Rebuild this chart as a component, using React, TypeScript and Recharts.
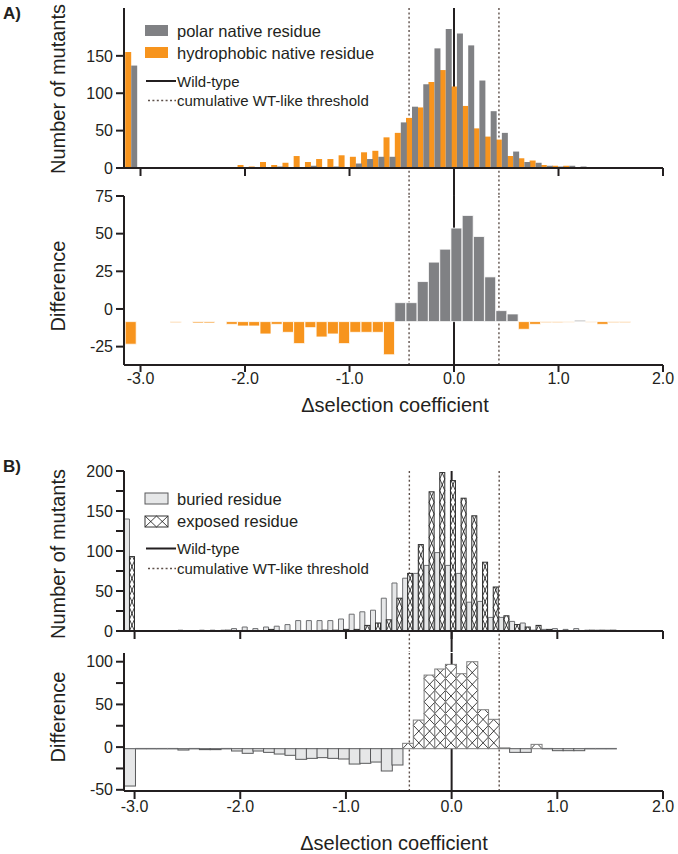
import React from "react";
import { BarChart, Bar, XAxis, YAxis, ReferenceLine, Cell } from "recharts";

const FONT = "'Liberation Sans', Arial, Helvetica, sans-serif";
const INK = "#231f20";
const GRAY = "#808184";
const ORANGE = "#f7941d";
const LIGHT = "#e6e7e8";
const EDGE = "#6d6e71";
const DOT = "#5e504a";

// panel A: bin centres, counts per bin and the plotted difference
const binsA = [
  -3.093, -2.986, -2.878, -2.771, -2.663, -2.556, -2.448, -2.341, -2.233, -2.126,
  -2.018, -1.911, -1.803, -1.696, -1.588, -1.481, -1.373, -1.266, -1.158, -1.051,
  -0.943, -0.836, -0.728, -0.621, -0.513, -0.406, -0.298, -0.191, -0.083, 0.024,
  0.132, 0.239, 0.347, 0.454, 0.562, 0.669, 0.777, 0.884, 0.992, 1.099,
  1.207, 1.314, 1.422, 1.529, 1.637,
];
const polarA = [
  137, 0, 0, 0, 0, 0, 0, 0, 1, 0,
  0, 0, 0, 2, 0, 0, 3, 0, 2, 0,
  6, 12, 15, 15, 61, 82, 112, 160, 186, 180,
  164, 117, 76, 47, 22, 8, 7, 3, 2, 3,
  2, 1, 0, 0, 0,
];
const hydrophobicA = [
  155, 0, 0, 0, 1, 0, 1, 1, 1, 1,
  4, 2, 8, 4, 7, 16, 8, 12, 12, 17,
  15, 21, 23, 41, 47, 67, 81, 115, 131, 109,
  83, 53, 42, 38, 16, 13, 10, 4, 3, 3,
  1, 1, 1, 1, 0,
];
const diffA = [
  -15, 0, 0, 0, -0.7, 0, -0.9, -0.9, 0, -1.8,
  -2.9, -2.9, -8.2, -1.8, -7.1, -14.6, -4, -10.2, -8.2, -14.6,
  -7.1, -7.1, -7.1, -22, 12.6, 12.6, 26.6, 39.5, 48.1, 62.1,
  70.5, 56.5, 29.7, 7.3, 5.1, -5.1, -1.8, -0.7, -0.7, -0.4,
  0.9, -0.4, -1.8, -0.7, -0.7,
];

// panel B
const binsB = [
  -3.045, -2.943, -2.842, -2.741, -2.64, -2.539, -2.437, -2.336, -2.235, -2.134,
  -2.032, -1.931, -1.83, -1.729, -1.628, -1.526, -1.425, -1.324, -1.223, -1.121,
  -1.02, -0.919, -0.818, -0.717, -0.615, -0.514, -0.413, -0.312, -0.21, -0.109,
  -0.008, 0.093, 0.194, 0.296, 0.397, 0.498, 0.599, 0.7, 0.802, 0.903,
  1.004, 1.105, 1.206, 1.308, 1.409, 1.51,
];
const buriedB = [
  140, 0, 0, 0, 0, 1, 0, 1, 1, 1,
  3, 5, 3, 5, 6, 8, 13, 13, 13, 13,
  15, 21, 24, 26, 41, 60, 66, 72, 82, 98,
  82, 72, 36, 37, 17, 17, 12, 10, 1, 2,
  3, 2, 3, 1, 1, 1,
];
const exposedB = [
  93, 0, 0, 0, 0, 0, 0, 0, 0, 1,
  0, 0, 0, 2, 0, 0, 0, 0, 1, 1,
  2, 2, 7, 10, 14, 41, 72, 108, 174, 198,
  188, 166, 144, 86, 55, 19, 8, 5, 7, 2,
  0, 0, 0, 1, 1, 1,
];
const diffB = [
  -46.7, 0, 0, 0, 0, -1.7, 0, -1.2, -1.2, 0,
  -2.9, -5.8, -2.9, -4.6, -6.7, -8.3, -13.3, -12.1, -11.2, -12.1,
  -12.9, -19.2, -18.3, -16.7, -27.9, -20.4, 6.7, 35.8, 92, 99.6,
  105.4, 93.7, 108.7, 48.7, 36.7, 1, -4.6, -4.6, 5.4, 0,
  -2.5, -2.5, -2.5, 0, 0, 0,
];

const xTicks = [-3, -2, -1, 0, 1, 2];
const wildType = 0;
const thresholdsA = [-0.43, 0.43];
const thresholdsB = [-0.4, 0.45];
const countTicksA = [0, 50, 100, 150];
const diffTicksA = [-25, 0, 25, 50, 75];
const countTicksB = [0, 25, 50, 75, 100, 125, 150, 175, 200];
const diffTicksB = [-50, -25, 0, 25, 50, 75, 100];

const domainA: [number, number] = [-3.158, 2.0];
const domainB: [number, number] = [-3.1, 2.0];

const dataA = binsA.map((x, i) => ({
  x,
  polar: polarA[i],
  hydrophobic: hydrophobicA[i],
  diff: diffA[i],
}));
const dataB = binsB.map((x, i) => ({
  x,
  buried: buriedB[i],
  exposed: exposedB[i],
  diff: diffB[i],
}));

const axisLine = { stroke: INK, strokeWidth: 2 };
const tickStyle = { fill: INK, fontSize: 16, fontFamily: FONT };
const fmtX = (v: number) => v.toFixed(1);
const every50 = (v: number) => (v % 50 === 0 ? String(v) : "");

// crossed hatching, one X per cell, stacked up from the bar's base
const CELL = 11.7;
const hatchPath = (x: number, top: number, w: number, bottom: number) => {
  let d = "";
  for (let b = bottom; b > top + 0.2; b -= CELL) {
    const t = Math.min(1, (b - top) / CELL);
    d += `M${x},${b}L${x + w * t},${b - CELL * t}M${x + w},${b}L${x + w - w * t},${b - CELL * t}`;
  }
  return d;
};

const HatchedRect = ({ x, top, w, h, edge }: any) => (
  <g>
    <rect x={x} y={top} width={w} height={h} fill="#fff" />
    <path d={hatchPath(x, top, w, top + h)} stroke="#111" strokeWidth={0.8} fill="none" />
    <rect x={x} y={top} width={w} height={h} fill="none" stroke={edge} strokeWidth={1} />
  </g>
);

const ExposedBar = (props: any) => {
  const { x, y, width, height } = props;
  const top = Math.min(y, y + height);
  const h = Math.abs(height);
  if (!(h > 0.5) || !(width > 0)) return null;
  return <HatchedRect x={x} top={top} w={width} h={h} edge="#2b2b2b" />;
};

const DiffBarB = (props: any) => {
  const { x, y, width, height, payload } = props;
  const top = Math.min(y, y + height);
  const h = Math.abs(height);
  if (!(width > 0)) return null;
  if (h < 0.5)
    return <line x1={x} x2={x + width} y1={y} y2={y} stroke={EDGE} strokeWidth={1.5} />;
  if (payload.diff >= 0) return <HatchedRect x={x} top={top} w={width} h={h} edge="#7d7d7d" />;
  return <rect x={x} y={top} width={width} height={h} fill={LIGHT} stroke="#58595b" strokeWidth={1} />;
};

// vertical markers: wild-type (solid) and the two WT-like thresholds (dotted)
const markers = (thr: number[], xId: string, yId: string, yTop?: number, yBottom?: number) => {
  const lines = [
    { x: wildType, stroke: INK, width: 2, dash: undefined as string | undefined },
    ...thr.map((t) => ({ x: t, stroke: DOT, width: 1.4, dash: "2 2.4" })),
  ];
  return lines.map((l, i) =>
    yTop !== undefined ? (
      <ReferenceLine
        key={i}
        xAxisId={xId}
        yAxisId={yId}
        segment={[{ x: l.x, y: yTop }, { x: l.x, y: yBottom }]}
        ifOverflow="visible"
        stroke={l.stroke}
        strokeWidth={l.width}
        strokeDasharray={l.dash}
        zIndex={-1}
      />
    ) : (
      <ReferenceLine
        key={i}
        xAxisId={xId}
        yAxisId={yId}
        x={l.x}
        stroke={l.stroke}
        strokeWidth={l.width}
        strokeDasharray={l.dash}
        zIndex={-1}
      />
    )
  );
};

const abs = (left: number, top: number): React.CSSProperties => ({ position: "absolute", left, top });

const PanelA = () => (
  <>
    <div style={abs(0, 0)}>
      <BarChart width={678} height={196} data={dataA} margin={{ top: 8, right: 15, bottom: 0, left: 84 }} barCategoryGap={0} barGap={0}>
        <XAxis xAxisId="b" dataKey="x" type="number" domain={domainA} allowDataOverflow ticks={xTicks} tickFormatter={() => ""} tickSize={8} height={28} axisLine={axisLine} tickLine={axisLine} />
        <XAxis xAxisId="t" orientation="top" dataKey="x" type="number" domain={domainA} allowDataOverflow tick={false} tickLine={false} height={0} axisLine={axisLine} />
        <YAxis yAxisId="l" type="number" domain={[0, 214]} allowDataOverflow ticks={countTicksA} width={40} tickSize={8} tickMargin={3} tick={tickStyle} axisLine={axisLine} tickLine={axisLine} />
        <YAxis yAxisId="r" orientation="right" type="number" domain={[0, 214]} allowDataOverflow width={0} tick={false} tickLine={false} axisLine={axisLine} />
        {markers(thresholdsA, "b", "l", 214, -37.4)}
        <Bar xAxisId="b" yAxisId="l" dataKey="hydrophobic" fill={ORANGE} isAnimationActive={false} />
        <Bar xAxisId="b" yAxisId="l" dataKey="polar" fill={GRAY} isAnimationActive={false} />
      </BarChart>
    </div>
    <div style={abs(0, 180)}>
      <BarChart width={678} height={220} data={dataA} margin={{ top: 16, right: 15, bottom: 5, left: 84 }} barCategoryGap={0} barGap={0}>
        <XAxis dataKey="x" type="number" domain={domainA} allowDataOverflow ticks={xTicks} tickFormatter={fmtX} tickSize={7} tickMargin={1} height={30} tick={tickStyle} axisLine={axisLine} tickLine={axisLine} />
        <YAxis yAxisId="ticks" type="number" domain={[-37.2, 75]} allowDataOverflow ticks={diffTicksA} width={40} tickSize={8} tickMargin={3} tick={tickStyle} axisLine={axisLine} tickLine={axisLine} />
        <YAxis yAxisId="bars" orientation="right" type="number" domain={[-28.8, 83.4]} allowDataOverflow width={0} tick={false} tickLine={false} axisLine={axisLine} />
        {markers(thresholdsA, "0", "ticks")}
        <Bar yAxisId="bars" dataKey="diff" stroke="#fff" strokeWidth={0.8} isAnimationActive={false}>
          {dataA.map((d, i) => (
            <Cell key={i} fill={d.diff >= 0 ? GRAY : ORANGE} />
          ))}
        </Bar>
      </BarChart>
    </div>
  </>
);

const PanelB = () => (
  <>
    <div style={abs(0, 440)}>
      <BarChart width={678} height={212} data={dataB} margin={{ top: 31, right: 15, bottom: 0, left: 84 }} barCategoryGap={0} barGap={0}>
        <XAxis xAxisId="b" dataKey="x" type="number" domain={domainB} allowDataOverflow ticks={xTicks} tickFormatter={() => ""} tickSize={8} height={21} axisLine={axisLine} tickLine={axisLine} />
        <XAxis xAxisId="t" orientation="top" dataKey="x" type="number" domain={domainB} allowDataOverflow tick={false} tickLine={false} height={0} axisLine={axisLine} />
        <YAxis yAxisId="l" type="number" domain={[0, 200]} allowDataOverflow ticks={countTicksB} tickFormatter={every50} width={40} tickSize={8} tickMargin={3} tick={tickStyle} axisLine={axisLine} tickLine={axisLine} />
        <YAxis yAxisId="r" orientation="right" type="number" domain={[0, 200]} allowDataOverflow width={0} tick={false} tickLine={false} axisLine={axisLine} />
        {markers(thresholdsB, "b", "l", 200, -27)}
        <Bar xAxisId="b" yAxisId="l" dataKey="buried" fill={LIGHT} stroke={EDGE} strokeWidth={1} isAnimationActive={false} />
        <Bar xAxisId="b" yAxisId="l" dataKey="exposed" shape={ExposedBar} isAnimationActive={false} />
      </BarChart>
    </div>
    <div style={abs(0, 640)}>
      <BarChart width={678} height={186} data={dataB} margin={{ top: 13, right: 15, bottom: 5, left: 84 }} barCategoryGap={0} barGap={0}>
        <XAxis dataKey="x" type="number" domain={domainB} allowDataOverflow ticks={xTicks} tickFormatter={fmtX} tickSize={8} tickMargin={2} height={30} tick={tickStyle} axisLine={axisLine} tickLine={axisLine} />
        <YAxis yAxisId="l" type="number" domain={[-51.4, 110.2]} allowDataOverflow ticks={diffTicksB} tickFormatter={every50} width={40} tickSize={8} tickMargin={3} tick={tickStyle} axisLine={axisLine} tickLine={axisLine} />
        <YAxis yAxisId="bars" orientation="right" type="number" domain={[-52.9, 119.6]} allowDataOverflow width={0} tick={false} tickLine={false} axisLine={axisLine} />
        {markers(thresholdsB, "0", "l")}
        <Bar yAxisId="bars" dataKey="diff" shape={DiffBarB} isAnimationActive={false} />
      </BarChart>
    </div>
  </>
);

const txt = { fontFamily: FONT, fill: INK };

const Swatch = ({ y, kind }: { y: number; kind: string }) => {
  if (kind === "hatch")
    return (
      <g>
        <rect x={145} y={y} width={23} height={11} fill="#fff" />
        <path d={`M145,${y}L156.5,${y + 11}M156.5,${y}L145,${y + 11}M156.5,${y}L168,${y + 11}M168,${y}L156.5,${y + 11}`} stroke="#111" strokeWidth={0.8} />
        <rect x={145} y={y} width={23} height={11} fill="none" stroke="#333" strokeWidth={1} />
      </g>
    );
  const fill = kind === "light" ? LIGHT : kind;
  return <rect x={145} y={y} width={23} height={11} fill={fill} stroke={kind === "light" ? "#58595b" : "none"} />;
};

const LineKey = ({ y, label }: { y: number; label: string }) => (
  <g>
    <line x1={146} x2={176} y1={y} y2={y} stroke={INK} strokeWidth={2} />
    <text x={177} y={y} fontSize={15} dominantBaseline="central" {...txt}>{label}</text>
  </g>
);
const DotKey = ({ y, label }: { y: number; label: string }) => (
  <g>
    <line x1={148} x2={176} y1={y} y2={y} stroke={DOT} strokeWidth={1.3} strokeDasharray="2 2.4" />
    <text x={177} y={y} fontSize={15} dominantBaseline="central" {...txt}>{label}</text>
  </g>
);

const VTitle = ({ x, y, label }: { x: number; y: number; label: string }) => (
  <text x={x} y={y} fontSize={20} textAnchor="middle" dominantBaseline="central" transform={`rotate(-90 ${x} ${y})`} {...txt}>
    {label}
  </text>
);

const Overlay = () => (
  <svg width={678} height={854} style={{ position: "absolute", left: 0, top: 0, pointerEvents: "none" }}>
    <text x={3} y={13} fontSize={17} fontWeight="bold" dominantBaseline="central" {...txt}>A)</text>
    <text x={3} y={466} fontSize={17} fontWeight="bold" dominantBaseline="central" {...txt}>B)</text>

    <Swatch y={25} kind={GRAY} />
    <text x={177} y={31} fontSize={16.5} dominantBaseline="central" {...txt}>polar native residue</text>
    <Swatch y={47} kind={ORANGE} />
    <text x={177} y={53} fontSize={16.5} dominantBaseline="central" {...txt}>hydrophobic native residue</text>
    <LineKey y={81} label="Wild-type" />
    <DotKey y={100.5} label="cumulative WT-like threshold" />

    <Swatch y={493} kind="light" />
    <text x={177} y={498.5} fontSize={16.5} dominantBaseline="central" {...txt}>buried residue</text>
    <Swatch y={516} kind="hatch" />
    <text x={177} y={521} fontSize={16.5} dominantBaseline="central" {...txt}>exposed residue</text>
    <LineKey y={548.5} label="Wild-type" />
    <DotKey y={568.5} label="cumulative WT-like threshold" />

    <VTitle x={58} y={89} label="Number of mutants" />
    <VTitle x={58} y={286} label="Difference" />
    <VTitle x={58} y={554} label="Number of mutants" />
    <VTitle x={58} y={717} label="Difference" />
    <text x={395} y={405} fontSize={20} textAnchor="middle" dominantBaseline="central" {...txt}>Δselection coefficient</text>
    <text x={394} y={843} fontSize={20} textAnchor="middle" dominantBaseline="central" {...txt}>Δselection coefficient</text>
  </svg>
);

export default function App() {
  return (
    <div style={{ position: "absolute", left: 0, top: 0, width: 678, height: 854, background: "#fff" }}>
      <PanelA />
      <PanelB />
      <Overlay />
    </div>
  );
}
